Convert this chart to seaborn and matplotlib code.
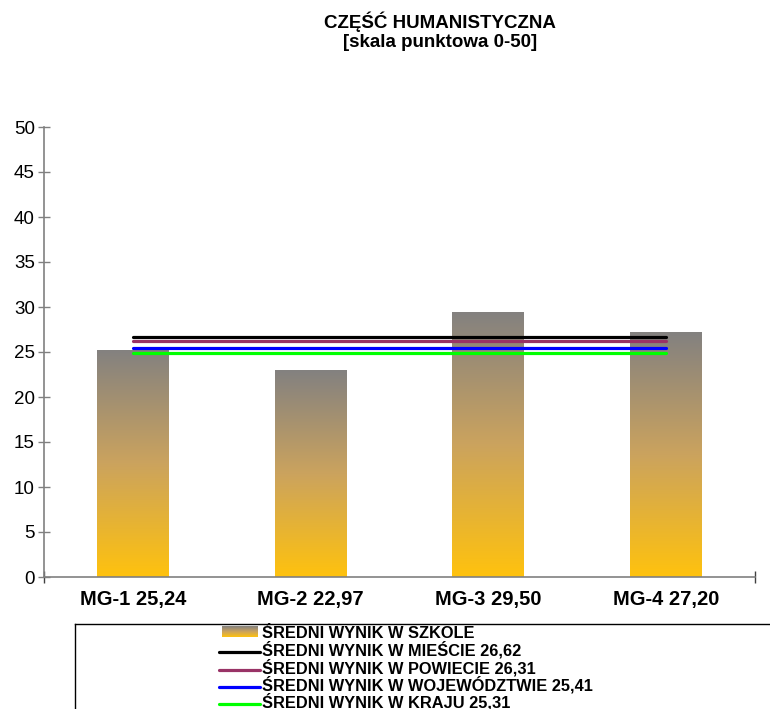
import numpy as np
import pandas as pd
import seaborn as sns
import matplotlib.pyplot as plt
from matplotlib.colors import LinearSegmentedColormap

sns.set_style("white")
plt.rcParams['font.family'] = ['Liberation Sans', 'DejaVu Sans']
plt.rcParams['text.color'] = 'black'

# dane
klasy = ['MG-1', 'MG-2', 'MG-3', 'MG-4']
wyniki = [25.24, 22.97, 29.50, 27.20]
etykiety = ['MG-1 25,24', 'MG-2 22,97', 'MG-3 29,50', 'MG-4 27,20']

srednie_nazwy = ['ŚREDNI WYNIK W MIEŚCIE 26,62', 'ŚREDNI WYNIK W POWIECIE 26,31',
                 'ŚREDNI WYNIK W WOJEWÓDZTWIE 25,41', 'ŚREDNI WYNIK W KRAJU 25,31']
srednie = [26.62, 26.22, 25.41, 24.92]   # polozenie linii
kolory = ['#000000', '#993366', '#0000FF', '#00FF00']

df = pd.DataFrame({'klasa': klasy, 'wynik': wyniki})

W, H = 770, 709
fig = plt.figure(figsize=(W / 100, H / 100), dpi=100)
ax = fig.add_axes([44 / W, 1 - 577 / H, (755 - 44) / W, (577 - 127) / H])

sns.barplot(data=df, x='klasa', y='wynik', width=0.405, ax=ax, color='#808080')

cmap = LinearSegmentedColormap.from_list('grad', [(0, '#FFC20E'), (0.5, '#CBA35E'), (1, '#838180')])
grad = np.linspace(0, 1, 256).reshape(-1, 1)
for p in ax.patches:
    x0, y0, w, h = p.get_x(), p.get_y(), p.get_width(), p.get_height()
    im = ax.imshow(grad, extent=[x0, x0 + w, y0, y0 + h], origin='lower',
                   aspect='auto', cmap=cmap, zorder=p.get_zorder())
    im.set_clip_path(p)
    p.set_facecolor('none')
    p.set_edgecolor('none')

for v, c in zip(srednie, kolory):
    sns.lineplot(x=[0, 1, 2, 3], y=[v] * 4, color=c, lw=2.3, ax=ax, zorder=5)

ax.set_xlim(-0.5, 3.5)
ax.set_ylim(0, 50)
ax.set_yticks(range(0, 51, 5))
ax.set_xticks(range(4))
ax.set_xticklabels(etykiety, fontsize=14.5, fontweight='bold')
ax.set_xticks([-0.5, 3.5], minor=True)
ax.set_xlabel('')
ax.set_ylabel('')
ax.tick_params(axis='y', direction='inout', length=9, width=1, color='#808080',
               labelsize=13.5, labelcolor='black', pad=2, left=True)
ax.tick_params(axis='x', which='major', length=0, pad=9, labelcolor='black')
ax.tick_params(axis='x', which='minor', direction='inout', length=9, width=1,
               color='#404040', bottom=True)
for s in ['top', 'right']:
    ax.spines[s].set_visible(False)
for s in ['left', 'bottom']:
    ax.spines[s].set_color('#808080')
    ax.spines[s].set_linewidth(1.2)

fig.text(440 / W, 1 - 12 / H, 'CZĘŚĆ HUMANISTYCZNA\n[skala punktowa 0-50]',
         ha='center', va='top', fontsize=13.5, fontweight='bold', linespacing=1.15)

# legenda
lax = fig.add_axes([75 / W, 1 - 730 / H, (800 - 75) / W, (730 - 624) / H])
lax.set_facecolor('none')
for s in ['right', 'bottom']:
    lax.spines[s].set_visible(False)
for s in ['left', 'top']:
    lax.spines[s].set_color('black')
    lax.spines[s].set_linewidth(1)
lax.set_xticks([])
lax.set_yticks([])

rows = [638, 655.5, 673, 690.5, 707.5]
fs = 11.8
lax.imshow(grad, extent=[222, 258, 637, 626], origin='lower', aspect='auto', cmap=cmap)
lax.text(262, rows[0], 'ŚREDNI WYNIK W SZKOLE', va='baseline', ha='left',
         fontsize=fs, fontweight='bold')
for y, nazwa, c in zip(rows[1:], srednie_nazwy, kolory):
    lax.plot([219, 260], [y - 3.5, y - 3.5], color=c, lw=2.3)
    lax.text(262, y, nazwa, va='baseline', ha='left', fontsize=fs, fontweight='bold')
lax.set_xlim(75, 800)
lax.set_ylim(730, 624)

fig.savefig('out.png', dpi=100)
